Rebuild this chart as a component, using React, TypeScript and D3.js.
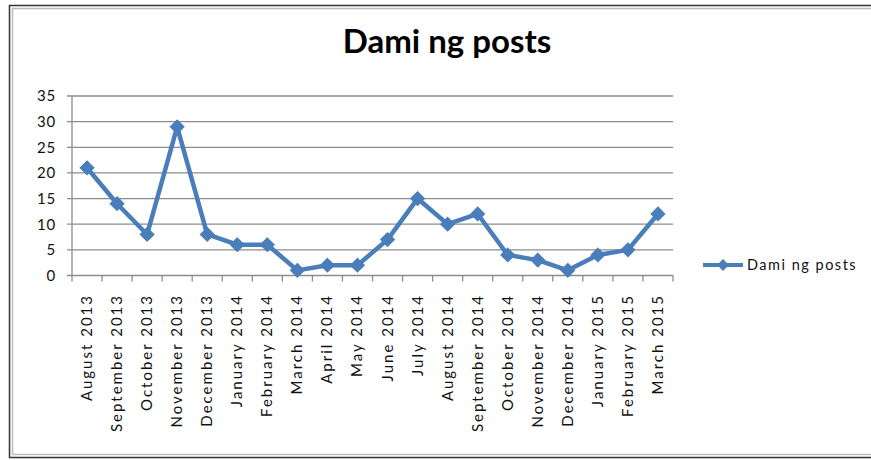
import { useRef, useEffect } from "react";
import * as d3 from "d3";

const months = [
  "August 2013", "September 2013", "October 2013", "November 2013", "December 2013",
  "January 2014", "February 2014", "March 2014", "April 2014", "May 2014",
  "June 2014", "July 2014", "August 2014", "September 2014", "October 2014",
  "November 2014", "December 2014", "January 2015", "February 2015", "March 2015",
];
const posts = [21, 14, 8, 29, 8, 6, 6, 1, 2, 2, 7, 15, 10, 12, 4, 3, 1, 4, 5, 12];
const yTicks = [0, 5, 10, 15, 20, 25, 30, 35];
const seriesName = "Dami ng posts";

const W = 871;
const H = 460;
const BLUE = "#4A7EBB";
const FONT = "Lato, 'Open Sans', sans-serif";

export default function App() {
  const svgRef = useRef<SVGSVGElement>(null);

  useEffect(() => {
    if (!svgRef.current) return;
    const svg = d3.select(svgRef.current);
    svg.selectAll("*").remove();

    const left = 72, right = 673, top = 96, bottom = 275.5;

    const x = d3.scaleBand<string>().domain(months).range([left, right]);
    const y = d3.scaleLinear().domain([0, 35]).range([bottom, top]);

    // outer frame
    svg.append("rect").attr("x", 9.5).attr("y", 5.5).attr("width", W + 10).attr("height", 452)
      .attr("fill", "none").attr("stroke", "#333").attr("stroke-width", 1.5);
    svg.append("rect").attr("x", 12.5).attr("y", 8.5).attr("width", W + 10).attr("height", 446)
      .attr("fill", "none").attr("stroke", "#bbb").attr("stroke-width", 1.5);

    // title
    svg.append("text")
      .attr("x", 447).attr("y", 53)
      .attr("text-anchor", "middle")
      .attr("font-family", FONT).attr("font-weight", 700).attr("font-size", 33)
      .attr("fill", "#000")
      .text(seriesName);

    // gridlines
    svg.append("g").selectAll("line")
      .data(yTicks.filter((t) => t > 0))
      .join("line")
      .attr("x1", left - 5).attr("x2", right)
      .attr("y1", (d) => y(d)).attr("y2", (d) => y(d))
      .attr("stroke", "#8c8c8c").attr("stroke-width", 1.3);

    // axes
    svg.append("line").attr("x1", left).attr("x2", left).attr("y1", top).attr("y2", bottom)
      .attr("stroke", "#8c8c8c").attr("stroke-width", 1.3);
    svg.append("line").attr("x1", left - 5).attr("x2", right).attr("y1", bottom).attr("y2", bottom)
      .attr("stroke", "#8c8c8c").attr("stroke-width", 1.3);

    // x tick marks at band edges
    const edges = months.map((m) => x(m)!).concat([right]);
    svg.append("g").selectAll("line")
      .data(edges)
      .join("line")
      .attr("x1", (d) => d).attr("x2", (d) => d)
      .attr("y1", bottom).attr("y2", bottom + 6)
      .attr("stroke", "#8c8c8c").attr("stroke-width", 1.3);

    // y labels
    svg.append("g").selectAll("text")
      .data(yTicks)
      .join("text")
      .attr("x", 56).attr("y", (d) => y(d))
      .attr("dy", "0.36em")
      .attr("text-anchor", "end")
      .attr("font-family", FONT).attr("font-size", 15).attr("letter-spacing", 0.8)
      .attr("fill", "#111")
      .text((d) => d);

    // x labels
    svg.append("g").selectAll("text")
      .data(months)
      .join("text")
      .attr("transform", (d) => `translate(${x(d)! + x.bandwidth() / 2 + 5},294) rotate(-90)`)
      .attr("text-anchor", "end")
      .attr("font-family", FONT).attr("font-size", 15).attr("letter-spacing", 2)
      .attr("fill", "#111")
      .text((d) => d);

    // line
    const cx = (i: number) => x(months[i])! + x.bandwidth() / 2;
    const line = d3.line<number>().x((_, i) => cx(i)).y((d) => y(d));
    svg.append("path").datum(posts).attr("d", line)
      .attr("fill", "none").attr("stroke", BLUE).attr("stroke-width", 4.5)
      .attr("stroke-linejoin", "round");

    const diamond = d3.symbol().type(d3.symbolDiamond2).size(110);
    svg.append("g").selectAll("path")
      .data(posts)
      .join("path")
      .attr("transform", (d, i) => `translate(${cx(i)},${y(d)})`)
      .attr("d", diamond())
      .attr("fill", BLUE).attr("stroke", BLUE).attr("stroke-width", 1.5);

    // legend
    const lg = svg.append("g").attr("transform", "translate(703,265)");
    lg.append("line").attr("x1", 0).attr("x2", 40).attr("stroke", BLUE).attr("stroke-width", 4);
    lg.append("path").attr("transform", "translate(20,0)")
      .attr("d", d3.symbol().type(d3.symbolDiamond2).size(90)())
      .attr("fill", BLUE);
    lg.append("text").attr("x", 44).attr("dy", "0.36em")
      .attr("font-family", FONT).attr("font-size", 14.5).attr("letter-spacing", 1.5)
      .attr("fill", "#111")
      .text(seriesName);
  }, []);

  return (
    <svg
      ref={svgRef}
      width={W}
      height={H}
      style={{ position: "fixed", left: 0, top: 0, background: "#fff", display: "block" }}
    />
  );
}
